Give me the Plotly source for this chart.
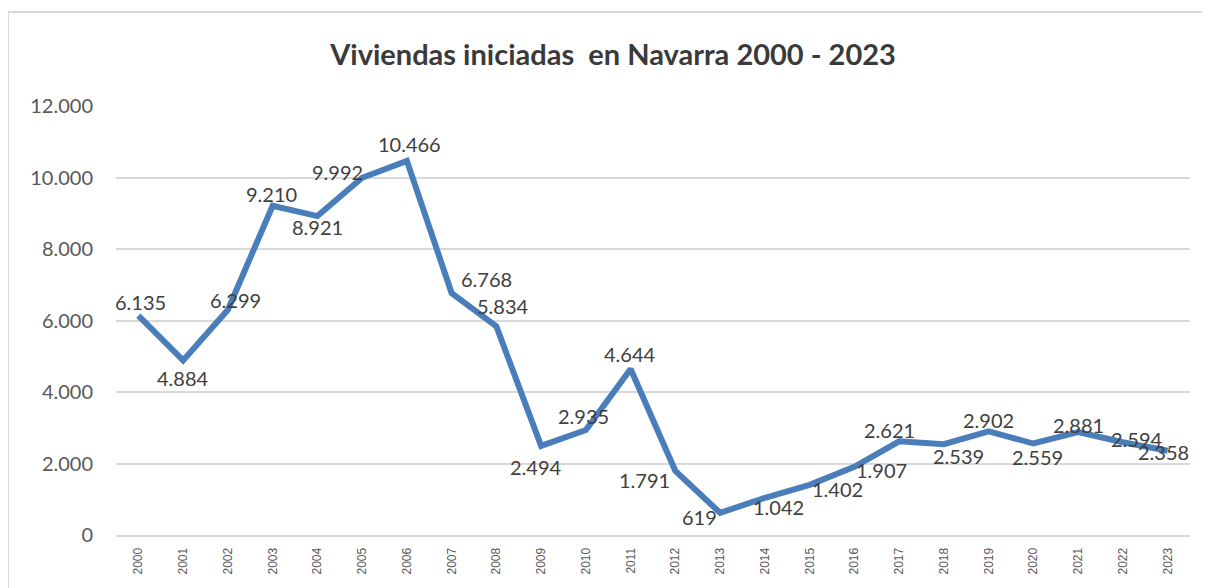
import plotly.graph_objects as go

years = [str(y) for y in range(2000, 2024)]
values = [6135, 4884, 6299, 9210, 8921, 9992, 10466, 6768, 5834, 2494, 2935, 4644,
          1791, 619, 1042, 1402, 1907, 2621, 2539, 2902, 2559, 2881, 2594, 2358]
y_ticks = [0, 2000, 4000, 6000, 8000, 10000, 12000]

# label offsets in pixels (dx right, dy up) relative to each point
label_dx = [2, 0, 8, -1, 0, -25, 3, 35, 7, -5, -2, -1, -31, -21, 14, 28, 27, -10, 15, 0, 4, 0, 14, -4]
label_dy = [14, -18, 10, 12, -11, 6, 17, 14, 20, -21, 14, 15, -9, -4, -9, -4, -3, 11, -12, 11, -13, 7, 3, -1]

# page body adds an 8px offset; compensate
OFF = 8
W, H = 1210 - OFF, 588 - OFF
L, R, T, B = 116 - OFF, 20, 106 - OFF, 53
pw = W - L - R
ph = H - T - B

fig = go.Figure()
fig.add_trace(go.Scatter(
    x=years, y=values, mode="lines",
    line=dict(color="#4a7ebb", width=6),
    showlegend=False, hoverinfo="x+y",
))

annotations = []
for i, (v, dx, dy) in enumerate(zip(values, label_dx, label_dy)):
    annotations.append(dict(
        x=i, y=v, xref="x", yref="y", text=f"{v:,}".replace(",", "."),
        showarrow=False, xshift=dx, yshift=dy, xanchor="center", yanchor="middle",
        font=dict(family="Lato, Open Sans, sans-serif", size=20, color="#404040"),
    ))

fig.update_layout(
    width=W, height=H,
    paper_bgcolor="white", plot_bgcolor="white",
    margin=dict(l=L, r=R, t=T, b=B, autoexpand=False),
    separators=",.",
    annotations=annotations,
    title=dict(text="<b>Viviendas iniciadas  en Navarra 2000 - 2023</b>",
               x=(613 - OFF) / W, xref="container", xanchor="center",
               y=1 - (55 - OFF) / H, yanchor="middle",
               font=dict(family="Lato, Open Sans, sans-serif", size=29, color="#3a3a3a")),
    xaxis=dict(type="category", range=[-0.5, 23.5], tickangle=-90,
               tickfont=dict(family="Liberation Sans, Arial, sans-serif", size=12, color="#595959"),
               showgrid=False, showline=True, linecolor="#d9d9d9", linewidth=2,
               ticks="", ticklabelstandoff=6),
    yaxis=dict(range=[0, 12000], tickvals=y_ticks, tickformat=",d",
               tickfont=dict(family="Lato, Open Sans, sans-serif", size=20, color="#595959"),
               showgrid=True, gridcolor="#d9d9d9", gridwidth=1.5,
               zeroline=False, showline=False, ticks="", ticklabelstandoff=22),
    shapes=[dict(type="rect", xref="paper", yref="paper",
                 x0=(8 - 116) / pw, x1=1.1, y0=-0.3, y1=(535 - 12) / ph,
                 line=dict(color="#d9d9d9", width=2), layer="below")],
)

fig.write_html("out.html")
